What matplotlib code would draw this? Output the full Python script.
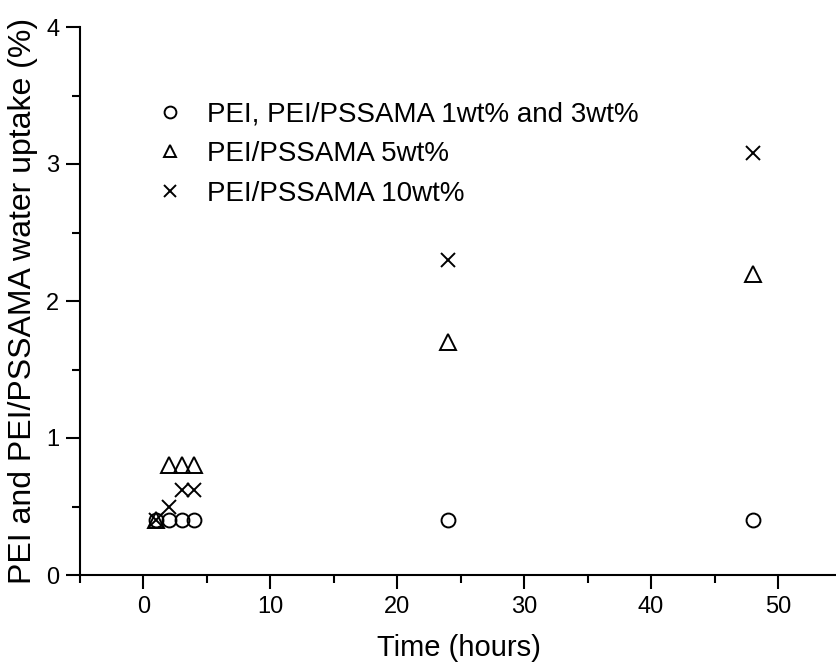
import matplotlib
matplotlib.use("Agg")
import matplotlib.pyplot as plt
from matplotlib.ticker import MultipleLocator

# Dados
tempo = [1, 2, 3, 4, 24, 48]
pei_1_3 = [0.4, 0.4, 0.4, 0.4, 0.4, 0.4]
pssama_5 = [0.4, 0.8, 0.8, 0.8, 1.7, 2.2]
pssama_10 = [0.4, 0.5, 0.62, 0.62, 2.3, 3.08]

rotulos = ["PEI, PEI/PSSAMA 1wt% and 3wt%", "PEI/PSSAMA 5wt%", "PEI/PSSAMA 10wt%"]

plt.rcParams["font.family"] = ["Liberation Sans", "DejaVu Sans"]

fig = plt.figure(figsize=(8.37, 6.66), dpi=100)
ax = fig.add_axes([80 / 837, 91 / 666, 757 / 837, 548 / 666])

ax.plot(tempo, pei_1_3, linestyle="none", marker="o", markersize=10,
        markerfacecolor="none", markeredgecolor="black", markeredgewidth=1.4, label=rotulos[0])
ax.plot(tempo, pssama_5, linestyle="none", marker="^", markersize=11,
        markerfacecolor="none", markeredgecolor="black", markeredgewidth=1.4, label=rotulos[1])
ax.plot(tempo, pssama_10, linestyle="none", marker="x", markersize=10,
        color="black", markeredgewidth=1.4, label=rotulos[2])

ax.set_xlim(-5, 54.65)
ax.set_ylim(0, 4)

ax.xaxis.set_major_locator(MultipleLocator(10))
ax.xaxis.set_minor_locator(MultipleLocator(5))
ax.yaxis.set_major_locator(MultipleLocator(1))
ax.yaxis.set_minor_locator(MultipleLocator(0.5))

ax.spines["top"].set_visible(False)
ax.spines["right"].set_visible(False)
ax.spines["left"].set_linewidth(1.5)
ax.spines["bottom"].set_linewidth(1.5)

ax.tick_params(which="major", length=10, width=1.5, labelsize=17)
ax.tick_params(which="minor", length=6, width=1.5)
ax.tick_params(axis="x", which="major", pad=5)
ax.tick_params(axis="y", which="major", pad=5)

ax.set_xlabel("Time (hours)", fontsize=21, labelpad=12)
ax.set_ylabel("PEI and PEI/PSSAMA water uptake (%)", fontsize=23, labelpad=6)

ax.legend(loc="upper left", bbox_to_anchor=(0.067, 0.91), frameon=False,
          fontsize=20, markerscale=0.85, handletextpad=0.85, labelspacing=0.5,
          handlelength=1.0)

fig.savefig("out.png", dpi=100)
